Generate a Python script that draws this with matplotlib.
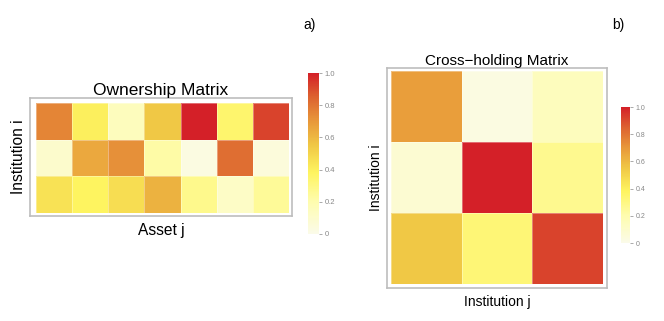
import numpy as np
import matplotlib.pyplot as plt
from matplotlib.colors import LinearSegmentedColormap

# ownership matrix: institutions (rows) x assets (cols)
ownership_row1 = [0.75, 0.40, 0.15, 0.55, 1.00, 0.35, 0.92]
ownership_row2 = [0.10, 0.65, 0.72, 0.22, 0.03, 0.82, 0.05]
ownership_row3 = [0.45, 0.38, 0.47, 0.62, 0.28, 0.12, 0.25]

# cross-holding matrix: institutions x institutions
cross_row1 = [0.68, 0.03, 0.15]
cross_row2 = [0.08, 1.00, 0.27]
cross_row3 = [0.55, 0.33, 0.92]

cbar_ticks = [0, 0.2, 0.4, 0.6, 0.8, 1.0]
cbar_labels = ['0', '0.2', '0.4', '0.6', '0.8', '1.0']

plt.rcParams['font.family'] = ['Liberation Sans', 'DejaVu Sans']

cmap = LinearSegmentedColormap.from_list('heat', [
    (0.0, '#FBFBE9'), (0.2, '#FEFCAE'), (0.38, '#FEF460'),
    (0.55, '#F0C845'), (0.7, '#E8983A'), (0.85, '#DD6330'),
    (1.0, '#D42028')])

W, H = 664, 321
fig = plt.figure(figsize=(W / 100, H / 100), dpi=100)


def box(x0, y0, x1, y1):
    # pixel box (top-left origin) -> figure fraction
    return [x0 / W, 1 - y1 / H, (x1 - x0) / W, (y1 - y0) / H]


def panel(frame, cells, cbar, data, title, xlabel, ylabel, tsize, lsize, csize):
    fa = fig.add_axes(box(*frame))
    fa.set_xticks([])
    fa.set_yticks([])
    for s in fa.spines.values():
        s.set_color('#BDBDBD')
        s.set_linewidth(1.2)
    fa.set_title(title, fontsize=tsize, pad=2)
    fa.set_xlabel(xlabel, fontsize=lsize, labelpad=5)
    fa.set_ylabel(ylabel, fontsize=lsize, labelpad=3)

    ax = fig.add_axes(box(*cells))
    m = np.array(data)
    mesh = ax.pcolormesh(m, cmap=cmap, vmin=0, vmax=1,
                         edgecolor=(1, 1, 1, 0.35), linewidth=0.6)
    ax.invert_yaxis()
    ax.set_axis_off()

    ca = fig.add_axes(box(*cbar))
    cb = fig.colorbar(mesh, cax=ca, ticks=cbar_ticks)
    cb.ax.set_yticklabels(cbar_labels)
    cb.outline.set_visible(False)
    cb.ax.tick_params(labelsize=csize, colors='#888888', length=2,
                      width=0.5, pad=2)


panel((30, 98, 292, 216), (36, 103, 289, 213), (308, 73, 319, 234),
      [ownership_row1, ownership_row2, ownership_row3],
      'Ownership Matrix', 'Asset j', 'Institution i', 12.5, 11.2, 5.5)

panel((387, 68, 607, 288), (391, 71, 603, 284), (621, 107, 630, 243),
      [cross_row1, cross_row2, cross_row3],
      'Cross\u2212holding Matrix', 'Institution j', 'Institution i', 11, 10, 5)

fig.text(303 / W, 1 - 29 / H, 'a)', fontsize=10)
fig.text(612 / W, 1 - 29 / H, 'b)', fontsize=10)

fig.savefig('out.png', dpi=100)
